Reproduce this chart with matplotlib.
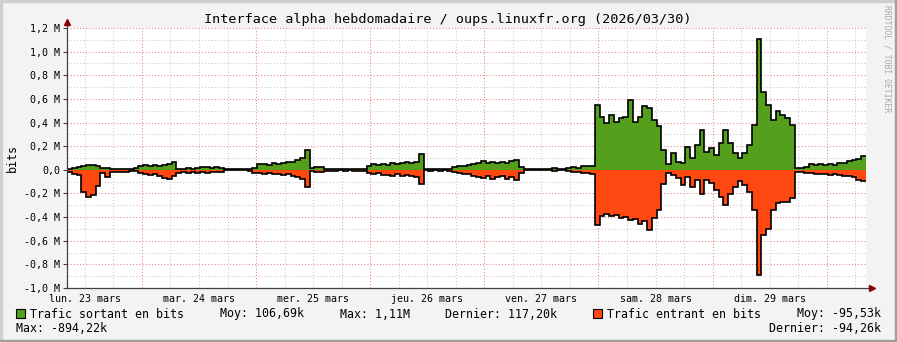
import numpy as np
import matplotlib.pyplot as plt
from matplotlib.patches import Rectangle

###### DATA
# hourly averages in kbit/s, first bin starts lun. 23 mars 08:15
out_k = [8, 17, 25, 34, 42, 42, 34, 17, 17, 8,
         8, 8, 8, 8, 17, 34, 42, 34, 42, 34,
         42, 51, 68, 8, 8, 17, 8, 17, 25, 25,
         17, 25, 17, 3, 3, 4, 3, 3, 4, 17,
         51, 51, 42, 59, 51, 59, 68, 68, 85, 102,
         169, 17, 25, 25, 8, 8, 8, 8, 8, 8,
         8, 4, 4, 34, 51, 42, 51, 42, 59, 51,
         59, 68, 59, 68, 135, 4, 8, 4, 4, 4,
         8, 25, 34, 34, 42, 51, 59, 76, 59, 68,
         59, 68, 59, 76, 85, 25, 4, 3, 4, 3,
         4, 3, 13, 3, 4, 17, 25, 17, 34, 34,
         34, 550, 448, 398, 465, 406, 440, 448, 592, 406,
         448, 541, 525, 423, 372, 169, 51, 144, 68, 59,
         195, 102, 212, 338, 152, 186, 127, 228, 338, 228,
         144, 102, 144, 212, 381, 1110, 660, 550, 423, 499,
         465, 440, 381, 17, 17, 25, 51, 42, 51, 42,
         51, 42, 59, 59, 76, 85, 93, 117]
in_k = [17, 34, 42, 186, 228, 212, 135, 25, 59, 17,
        17, 17, 17, 8, 8, 25, 34, 42, 34, 51,
        68, 76, 51, 25, 17, 25, 17, 25, 17, 25,
        17, 17, 17, 4, 3, 3, 3, 3, 8, 25,
        25, 34, 25, 34, 34, 42, 34, 51, 59, 76,
        144, 8, 17, 17, 8, 8, 8, 4, 8, 4,
        8, 8, 8, 25, 34, 25, 42, 42, 51, 34,
        51, 42, 51, 59, 118, 4, 8, 4, 8, 4,
        8, 17, 25, 34, 34, 51, 59, 68, 51, 76,
        59, 51, 76, 59, 85, 25, 4, 3, 4, 3,
        4, 3, 8, 3, 4, 8, 17, 17, 25, 25,
        34, 465, 389, 372, 389, 381, 406, 398, 423, 415,
        457, 431, 508, 406, 338, 118, 25, 42, 68, 127,
        59, 144, 85, 203, 85, 110, 169, 228, 296, 203,
        144, 93, 127, 186, 338, 894, 550, 499, 338, 279,
        271, 271, 237, 17, 17, 25, 25, 34, 34, 34,
        42, 34, 42, 51, 51, 59, 85, 94]
start_hour = 8.25          # hours after lun. 23 mars 00:00
day_labels = ['lun. 23 mars', 'mar. 24 mars', 'mer. 25 mars', 'jeu. 26 mars',
              'ven. 27 mars', 'sam. 28 mars', 'dim. 29 mars']
y_ticks = [-1.0, -0.8, -0.6, -0.4, -0.2, 0.0, 0.2, 0.4, 0.6, 0.8, 1.0, 1.2]
title = 'Interface alpha hebdomadaire / oups.linuxfr.org (2026/03/30)'
legend_out = ['Trafic sortant en bits', 'Moy: 106,69k', 'Max: 1,11M', 'Dernier: 117,20k']
legend_in = ['Trafic entrant en bits', 'Moy: -95,53k', 'Max: -894,22k', 'Dernier: -94,26k']

GREEN = '#54A01C'
ORANGE = '#FF4712'
MONO = 'DejaVu Sans Mono'
W, H = 897, 342


def fx(x):
    return x / W


def fy(y):
    return 1 - y / H


###### FIGURE
fig = plt.figure(figsize=(W / 100, H / 100), dpi=100, facecolor='#F3F3F3')
# 3d-ish frame like rrdtool
fig.patches.append(Rectangle((0, fy(2)), 1, 2 / H, transform=fig.transFigure, color='#CFCFCF'))
fig.patches.append(Rectangle((0, 0), 2 / W, 1, transform=fig.transFigure, color='#CFCFCF'))
fig.patches.append(Rectangle((0, 0), 1, 2 / H, transform=fig.transFigure, color='#9E9E9E'))
fig.patches.append(Rectangle((1 - 2 / W, 0), 2 / W, 1, transform=fig.transFigure, color='#9E9E9E'))

ax = fig.add_axes([fx(67), fy(288), fx(866) - fx(67), (288 - 28) / H])
ax.set_facecolor('white')
t_end = start_hour + len(out_k)
ax.set_xlim(start_hour, t_end)
ax.set_ylim(-1.0, 1.2)
for s in ax.spines.values():
    s.set_visible(False)

# grid, drawn by hand: minor grey, major red, dotted
for h in np.arange(6, t_end, 6):
    major = h % 24 == 0
    ax.axvline(h, color='#F08080' if major else '#C8C8C8', lw=0.75,
               dashes=(1, 2), zorder=0)
for v in np.arange(-1.0, 1.21, 0.1):
    major = round(v * 10) % 2 == 0
    ax.axhline(v, color='#F08080' if major else '#C8C8C8', lw=0.75,
               dashes=(1, 2), zorder=0)

edges = start_hour + np.arange(len(out_k) + 1)
out_m = np.array(out_k) / 1000
in_m = -np.array(in_k) / 1000
ax.stairs(out_m, edges, baseline=0, fill=True, color=GREEN, zorder=2)
ax.stairs(in_m, edges, baseline=0, fill=True, color=ORANGE, zorder=2)
ax.stairs(out_m, edges, baseline=None, color='black', lw=1.2, zorder=3)
ax.stairs(in_m, edges, baseline=None, color='black', lw=1.2, zorder=3)

# ticks
ax.set_yticks(y_ticks)
ax.set_yticklabels(['0,0' if v == 0 else f'{v:.1f} M'.replace('.', ',') for v in y_ticks],
                   fontfamily=MONO, fontsize=7.2)
ax.set_xticks([12 + 24 * i for i in range(len(day_labels))])
ax.set_xticklabels(day_labels, fontfamily=MONO, fontsize=7.2)
ax.tick_params(axis='y', length=3, width=0.8, color='#404040', pad=2)
ax.tick_params(axis='x', length=0, pad=4)
ax.set_ylabel('bits', fontfamily=MONO, fontsize=8.4, labelpad=4)

# axes with arrows
ax.plot([0, 0], [0, 1.02], transform=ax.transAxes, color='#404040', lw=0.9, clip_on=False, zorder=4)
ax.plot([0, 1.008], [0, 0], transform=ax.transAxes, color='#404040', lw=0.9, clip_on=False, zorder=4)
ax.plot([0], [1.022], '^', transform=ax.transAxes, color='#8B0000', ms=4, clip_on=False, zorder=5)
ax.plot([1.008], [0], '>', transform=ax.transAxes, color='#8B0000', ms=4, clip_on=False, zorder=5)

###### TEXT
fig.text(fx(448), fy(19), title, fontfamily=MONO, fontsize=9.7, ha='center', va='center')
fig.text(fx(887), fy(5), 'RRDTOOL / TOBI OETIKER', fontfamily=MONO, fontsize=5.8,
         color='#A8A8A8', rotation=-90, ha='center', va='top')

fig.patches.append(Rectangle((fx(16), fy(318)), 9 / W, 9 / H, transform=fig.transFigure,
                             facecolor=GREEN, edgecolor='black', lw=0.8))
fig.patches.append(Rectangle((fx(593), fy(318)), 9 / W, 9 / H, transform=fig.transFigure,
                             facecolor=ORANGE, edgecolor='black', lw=0.8))
kw = dict(fontfamily=MONO, fontsize=8.4, va='center')
fig.text(fx(30), fy(314), legend_out[0], ha='left', **kw)
fig.text(fx(220), fy(314), legend_out[1], ha='left', **kw)
fig.text(fx(340), fy(314), legend_out[2], ha='left', **kw)
fig.text(fx(445), fy(314), legend_out[3], ha='left', **kw)
fig.text(fx(607), fy(314), legend_in[0], ha='left', **kw)
fig.text(fx(881), fy(314), legend_in[1], ha='right', **kw)
fig.text(fx(16), fy(328), legend_in[2], ha='left', **kw)
fig.text(fx(881), fy(328), legend_in[3], ha='right', **kw)

fig.savefig('out.png', dpi=100, facecolor=fig.get_facecolor())
